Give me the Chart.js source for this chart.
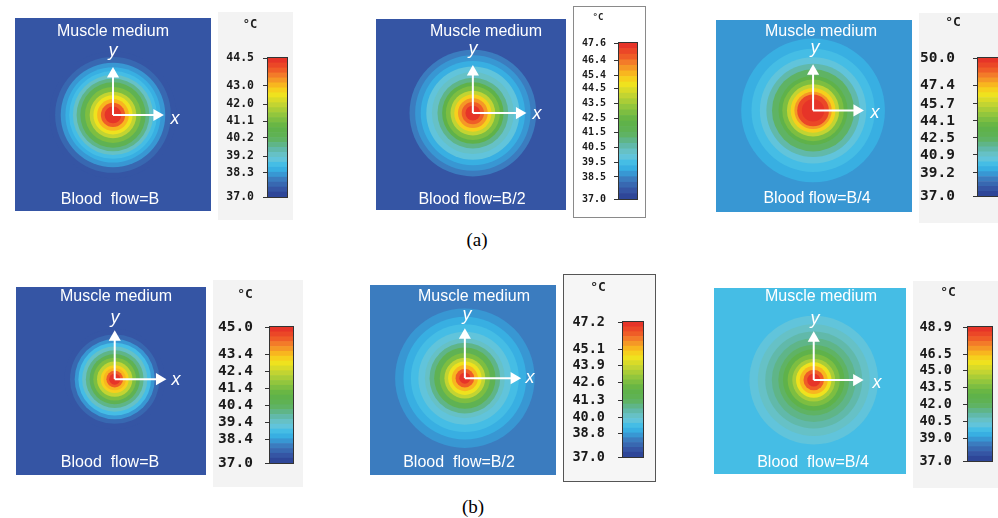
<!DOCTYPE html>
<html>
<head>
<meta charset="utf-8">
<script src="https://cdn.jsdelivr.net/npm/chart.js@4.4.1/dist/chart.umd.min.js"></script>
<style>
  html, body { margin: 0; padding: 0; background: #fff; width: 998px; height: 518px; overflow: hidden; position: relative; }
  .box { position: absolute; }
  .box canvas { display: block; }
  .cap { position: absolute; font-family: "Liberation Serif", "Times New Roman", serif; font-size: 19px; color: #000; transform: translate(-50%, -50%); }
</style>
</head>
<body>
<div class="cap" style="left:477px;top:240px">(a)</div>
<div class="cap" style="left:473px;top:507px">(b)</div>
<script>
// ---- data ----
const T_MIN = 37.0;
const LEVELS = 28;

// (a) Blood flow = B
const a1Max = 44.5;
const a1Ticks = [37.0, 38.3, 39.2, 40.2, 41.1, 42.0, 43.0, 44.5];
const a1Radius = [9, 13, 17, 21, 25, 30, 35, 39, 43, 47, 51, 56, 62, 68, 160];
const a1Temp = [44.3, 43.75, 43.0, 42.55, 41.95, 41.1, 40.45, 39.85, 39.25, 38.8, 38.5, 38.1, 37.75, 37.5, 37.35];

// (a) Blood flow = B/2
const a2Max = 47.6;
const a2Ticks = [37.0, 38.5, 39.5, 40.5, 41.5, 42.5, 43.5, 44.5, 45.4, 46.4, 47.6];
const a2Radius = [8, 12, 16, 20, 24, 29, 33, 38, 44, 50, 56, 62, 68, 160];
const a2Temp = [47.3, 46.75, 45.9, 45.05, 44.1, 42.85, 42.0, 41.15, 40.4, 39.75, 39.1, 38.6, 38.15, 37.75];

// (a) Blood flow = B/4
const a3Max = 50.0;
const a3Ticks = [37.0, 39.2, 40.9, 42.5, 44.1, 45.7, 47.4, 50.0];
const a3Radius = [12, 17, 20, 24, 28, 33, 37, 44, 50, 57, 66, 77, 160];
const a3Temp = [49.75, 49.1, 48.05, 46.9, 45.7, 44.3, 43.25, 42.2, 41.3, 40.65, 40.1, 39.6, 38.95];

// (b) Blood flow = B
const b1Max = 45.0;
const b1Ticks = [37.0, 38.4, 39.4, 40.4, 41.4, 42.4, 43.4, 45.0];
const b1Radius = [6, 9, 12, 15, 19, 23, 27, 31, 35, 39, 43, 48, 54, 160];
const b1Temp = [44.75, 44.2, 43.55, 43.0, 42.3, 41.4, 40.7, 39.95, 39.3, 38.75, 38.2, 37.8, 37.55, 37.4];

// (b) Blood flow = B/2
const b2Max = 47.2;
const b2Ticks = [37.0, 38.8, 40.0, 41.3, 42.6, 43.9, 45.1, 47.2];
const b2Radius = [6, 10, 14, 18, 22, 27, 33, 38, 43, 50, 58, 66, 75, 160];
const b2Temp = [46.9, 46.2, 45.35, 44.55, 43.65, 42.6, 41.7, 41.0, 40.25, 39.75, 39.25, 38.85, 38.55, 38.2];

// (b) Blood flow = B/4
const b3Max = 48.9;
const b3Ticks = [37.0, 39.0, 40.5, 42.0, 43.5, 45.0, 46.5, 48.9];
const b3Radius = [7, 11, 15, 19, 23, 28, 33, 38, 45, 52, 60, 69, 160];
const b3Temp = [48.55, 47.7, 46.75, 45.8, 44.6, 43.55, 42.7, 42.0, 41.4, 40.9, 40.55, 40.2, 39.85];

// ---- colour map (jet-like, as in the colour bars) ----
const cmapStops = [
  [0.00, '#2b3f92'], [0.06, '#3658a6'], [0.12, '#3b78bc'], [0.18, '#36a6de'],
  [0.22, '#3cbbe8'], [0.28, '#6ac6d8'], [0.35, '#5fb7a2'], [0.42, '#5fb25a'],
  [0.50, '#5fb246'], [0.58, '#8cc43e'], [0.66, '#c2d432'], [0.74, '#f4e41c'],
  [0.80, '#f8b91e'], [0.86, '#f4872a'], [0.92, '#ee5526'], [1.00, '#e42a29']
];
function hexRgb(h) { return [1, 3, 5].map(i => parseInt(h.substr(i, 2), 16)); }
function cmap(f) {
  f = Math.max(0, Math.min(1, f));
  for (let i = 1; i < cmapStops.length; i++) {
    if (f <= cmapStops[i][0]) {
      const [f0, c0] = cmapStops[i - 1], [f1, c1] = cmapStops[i];
      const t = (f - f0) / (f1 - f0), a = hexRgb(c0), b = hexRgb(c1);
      return 'rgb(' + a.map((v, k) => Math.round(v + (b[k] - v) * t)).join(',') + ')';
    }
  }
  return cmapStops[cmapStops.length - 1][1];
}
function levelColor(t, max) {
  const idx = Math.max(0, Math.min(LEVELS - 1, Math.floor((t - T_MIN) / (max - T_MIN) * LEVELS)));
  return cmap((idx + 0.5) / LEVELS);
}

// ---- layout of the six panels (page pixels) ----
const panels = [
  { max: a1Max, ticks: a1Ticks, radius: a1Radius, temp: a1Temp, flow: 'Blood  flow=B',
    heat: { x: 8, y: 11, w: 210, h: 207, cx: 113, cy: 115 }, arrow: [54, 51],
    title: [113, 32], flowPos: [110, 200], yLab: [113, 51], xLab: [175, 119],
    bar: { x: 218, y: 12, w: 75, h: 208, l: 268, t: 58, r: 287, b: 197, lab: 254, font: 11.5,
      deg: [250, 25], degFont: 12, bg: '#f3f3f3', border: 'none' } },
  { max: a2Max, ticks: a2Ticks, radius: a2Radius, temp: a2Temp, flow: 'Blood flow=B/2',
    heat: { x: 369, y: 12, w: 204, h: 205, cx: 473, cy: 113 }, arrow: [57, 51],
    title: [486, 32], flowPos: [472, 200], yLab: [473, 49], xLab: [537, 114],
    bar: { x: 573, y: 6, w: 73, h: 212, l: 619, t: 43, r: 637, b: 199, lab: 606, font: 10,
      deg: [598, 18], degFont: 9, bg: '#fff', border: '1px solid #8a8a8a' } },
  { max: a3Max, ticks: a3Ticks, radius: a3Radius, temp: a3Temp, flow: 'Blood flow=B/4',
    heat: { x: 709, y: 13, w: 210, h: 206, cx: 813, cy: 110 }, arrow: [54, 49],
    title: [821, 32], flowPos: [817, 199], yLab: [815, 48], xLab: [875, 113],
    bar: { x: 919, y: 13, w: 92, h: 210, l: 978, t: 58, r: 1001, b: 198, lab: 955, font: 14.5,
      deg: [953, 23], degFont: 13, bg: '#f3f3f3', border: 'none' } },
  { max: b1Max, ticks: b1Ticks, radius: b1Radius, temp: b1Temp, flow: 'Blood  flow=B',
    heat: { x: 9, y: 280, w: 204, h: 202, cx: 115, cy: 379 }, arrow: [55, 52],
    title: [116, 297], flowPos: [110, 463], yLab: [115, 318], xLab: [176, 380],
    bar: { x: 213, y: 280, w: 90, h: 207, l: 270, t: 327, r: 293, b: 463, lab: 253, font: 14.5,
      deg: [245, 295], degFont: 13, bg: '#f3f3f3', border: 'none' } },
  { max: b2Max, ticks: b2Ticks, radius: b2Radius, temp: b2Temp, flow: 'Blood  flow=B/2',
    heat: { x: 363, y: 278, w: 200, h: 204, cx: 465, cy: 378 }, arrow: [60, 53],
    title: [474, 297], flowPos: [459, 463], yLab: [467, 315], xLab: [530, 378],
    bar: { x: 563, y: 274, w: 93, h: 208, l: 623, t: 322, r: 643, b: 457, lab: 605, font: 13.5,
      deg: [598, 288], degFont: 13, bg: '#f6f6f6', border: '1px solid #555' } },
  { max: b3Max, ticks: b3Ticks, radius: b3Radius, temp: b3Temp, flow: 'Blood  flow=B/4',
    heat: { x: 707, y: 281, w: 206, h: 200, cx: 814, cy: 380 }, arrow: [53, 52],
    title: [821, 297], flowPos: [813, 463], yLab: [815, 319], xLab: [877, 383],
    bar: { x: 913, y: 281, w: 85, h: 207, l: 968, t: 327, r: 992, b: 461, lab: 952, font: 13.5,
      deg: [948, 293], degFont: 13, bg: '#f3f3f3', border: 'none' } }
];

const HEAD = 7; // arrow head size

function addCanvas(x, y, w, h, css) {
  const div = document.createElement('div');
  div.className = 'box';
  div.style.cssText = `left:${x}px;top:${y}px;width:${w}px;height:${h}px;` + (css || '');
  const cv = document.createElement('canvas');
  div.appendChild(cv);
  document.body.appendChild(div);
  return cv;
}

function makeHeat(p) {
  const h = p.heat;
  const cv = addCanvas(h.x, h.y, h.w, h.h);
  const order = p.radius.map((r, i) => i).sort((a, b) => p.radius[b] - p.radius[a]);
  const rings = order.map(i => ({ x: 0, y: 0, r: p.radius[i], t: p.temp[i] }));
  const toPx = (chart, r) => Math.abs(chart.scales.x.getPixelForValue(r) - chart.scales.x.getPixelForValue(0));

  const labels = {
    id: 'heatLabels',
    afterDatasetsDraw(chart) {
      const ctx = chart.ctx;
      ctx.save();
      ctx.fillStyle = '#fff';
      ctx.textAlign = 'center';
      ctx.textBaseline = 'middle';
      ctx.font = '16px "Liberation Sans", Arial, sans-serif';
      ctx.fillText('Muscle medium', p.title[0] - h.x, p.title[1] - h.y);
      ctx.fillText(p.flow, p.flowPos[0] - h.x, p.flowPos[1] - h.y);
      ctx.font = 'italic 18px "Liberation Sans", Arial, sans-serif';
      ctx.fillText('y', p.yLab[0] - h.x, p.yLab[1] - h.y);
      ctx.fillText('x', p.xLab[0] - h.x, p.xLab[1] - h.y);
      ctx.restore();
    }
  };

  const arrowDs = (pts, rot) => ({
    data: pts, showLine: true, borderColor: '#fff', borderWidth: 2,
    pointRadius: [0, HEAD], pointStyle: 'triangle', pointRotation: [rot, rot],
    pointBackgroundColor: '#fff', pointBorderWidth: 0, clip: 0
  });

  new Chart(cv, {
    type: 'scatter',
    data: {
      datasets: [
        arrowDs([{ x: 0, y: 0 }, { x: 0, y: p.arrow[1] - HEAD }], 0),
        arrowDs([{ x: 0, y: 0 }, { x: p.arrow[0] - HEAD, y: 0 }], 90),
        {
          data: rings,
          pointRadius: ctx => toPx(ctx.chart, ctx.raw.r),
          pointBackgroundColor: ctx => levelColor(ctx.raw.t, p.max),
          pointBorderWidth: 0,
          pointStyle: 'circle',
          clip: 0
        }
      ]
    },
    options: {
      responsive: true, maintainAspectRatio: false, animation: false, events: [],
      layout: { padding: 0 },
      plugins: { legend: { display: false }, tooltip: { enabled: false } },
      scales: {
        x: { type: 'linear', display: false, min: h.x - h.cx, max: h.x + h.w - h.cx },
        y: { type: 'linear', display: false, min: h.cy - (h.y + h.h), max: h.cy - h.y }
      }
    },
    plugins: [labels]
  });
}

function makeBar(p) {
  const b = p.bar;
  const cv = addCanvas(b.x, b.y, b.w, b.h, `background:${b.bg};border:${b.border};box-sizing:border-box;`);
  const step = (p.max - T_MIN) / LEVELS;
  const datasets = [];
  for (let k = 0; k < LEVELS; k++) {
    datasets.push({
      data: [[T_MIN + k * step, T_MIN + (k + 1) * step]],
      backgroundColor: cmap((k + 0.5) / LEVELS),
      borderWidth: 0, grouped: false, barPercentage: 1, categoryPercentage: 1
    });
  }
  const inner = b.border === 'none' ? 0 : 1;
  const axisW = b.l - b.x - inner;
  const frame = {
    id: 'barFrame',
    afterDatasetsDraw(chart) {
      const a = chart.chartArea, ctx = chart.ctx;
      ctx.save();
      ctx.strokeStyle = '#333';
      ctx.lineWidth = 1;
      ctx.strokeRect(Math.round(a.left) - 0.5, Math.round(a.top) - 0.5, Math.round(a.right - a.left) + 1, Math.round(a.bottom - a.top) + 1);
      ctx.fillStyle = '#222';
      ctx.textAlign = 'center';
      ctx.textBaseline = 'middle';
      ctx.font = `bold ${b.degFont}px "DejaVu Sans Mono", monospace`;
      ctx.fillText('°C', b.deg[0] - b.x - inner, b.deg[1] - b.y - inner);
      ctx.restore();
    }
  };
  new Chart(cv, {
    type: 'bar',
    data: { labels: [''], datasets },
    options: {
      responsive: true, maintainAspectRatio: false, animation: false, events: [],
      layout: { padding: { left: 0, top: b.t - b.y - inner, right: b.x + b.w - b.r - inner, bottom: b.y + b.h - b.b - inner } },
      plugins: { legend: { display: false }, tooltip: { enabled: false } },
      scales: {
        x: { display: false },
        y: {
          type: 'linear', position: 'left', min: T_MIN, max: p.max,
          afterBuildTicks: s => { s.ticks = p.ticks.map(v => ({ value: v })); },
          afterFit: s => { s.width = axisW; },
          ticks: {
            autoSkip: false,
            callback: v => Number(v).toFixed(1),
            color: '#1a1a1a',
            padding: b.l - b.lab - 5,
            font: { family: '"DejaVu Sans Mono", monospace', size: b.font, weight: 'bold' }
          },
          grid: { drawOnChartArea: false, drawTicks: true, tickLength: 5, color: '#333' },
          border: { display: false }
        }
      }
    },
    plugins: [frame]
  });
}

panels.forEach(p => { makeHeat(p); makeBar(p); });
</script>
</body>
</html>
